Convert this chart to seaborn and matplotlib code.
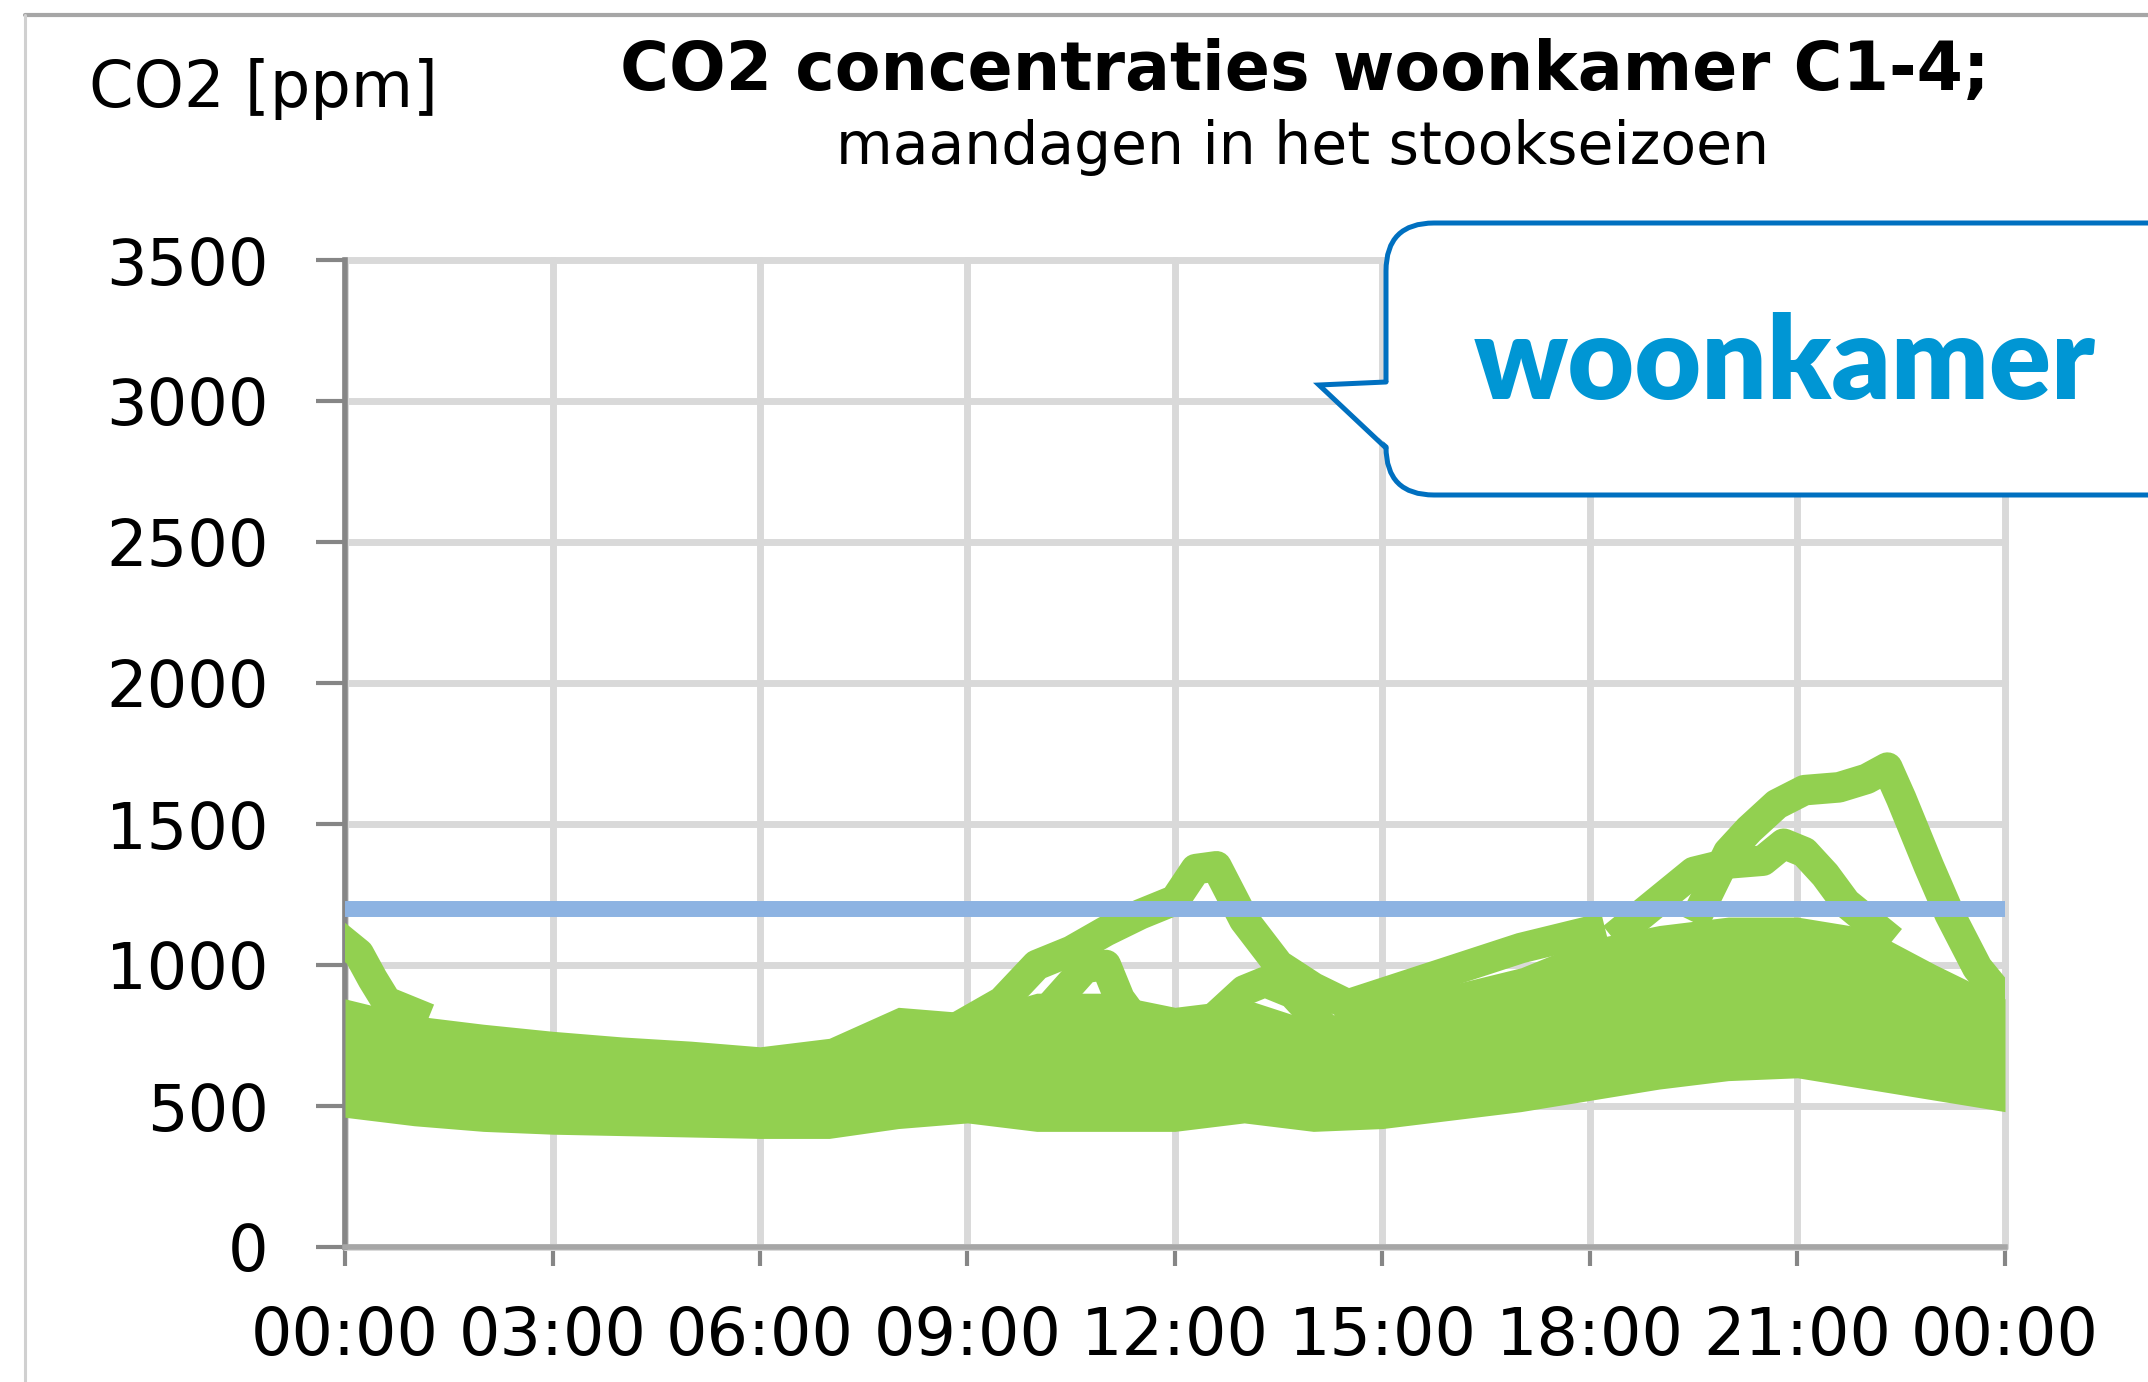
"""
CO2-concentraties in de woonkamer (C1-4) op maandagen in het stookseizoen.
Nagebouwd als seaborn/matplotlib-figuur van 2148x1382 px.
"""

import matplotlib
matplotlib.use("Agg")
import matplotlib.pyplot as plt
from matplotlib.patches import FancyBboxPatch, Polygon
from matplotlib.lines import Line2D
from matplotlib.transforms import IdentityTransform
import pandas as pd
import seaborn as sns

# --- data (ppm) ----------------------------------------------------------
uren = list(range(25))
band_onder = [460, 430, 410, 400, 395, 390, 385, 385, 420, 440, 410, 410, 410,
              440, 410, 420, 450, 480, 520, 560, 590, 600, 560, 520, 480]
band_boven = [880, 820, 790, 765, 745, 730, 710, 740, 850, 830, 900, 900, 850,
              880, 800, 880, 930, 990, 1090, 1140, 1170, 1170, 1130, 1000, 880]

# losse maandagen die boven de dichte band uitsteken
dag_nacht_t = [0.0, 0.2, 0.4, 0.6, 1.0]
dag_nacht_v = [1080, 1040, 950, 870, 830]

dag_middag_t = [9.0, 9.5, 10.0, 10.5, 11.0, 11.5, 12.0, 12.3, 12.6, 13.0, 13.5,
                14.0, 14.5, 15.0, 16.0, 17.0, 18.0]
dag_middag_v = [800, 870, 1000, 1050, 1120, 1180, 1230, 1340, 1350, 1160, 1000,
                920, 860, 900, 980, 1060, 1120]

dag_lus_t = [10.3, 10.7, 11.0, 11.2, 11.5]
dag_lus_v = [880, 990, 1000, 880, 780]

dag_13u_t = [12.6, 13.0, 13.3, 13.7, 14.0]
dag_13u_v = [820, 910, 940, 900, 820]

dag_avond_t = [18.5, 19.0, 19.5, 20.0, 20.5, 20.8, 21.1, 21.4, 21.7, 22.2]
dag_avond_v = [1130, 1230, 1330, 1360, 1370, 1430, 1400, 1320, 1220, 1120]

dag_laat_t = [19.6, 20.0, 20.3, 20.7, 21.1, 21.6, 22.0, 22.3, 22.5, 22.7, 22.9,
              23.2, 23.6, 24.0]
dag_laat_v = [1200, 1400, 1480, 1570, 1620, 1630, 1660, 1700, 1590, 1470, 1350,
              1180, 990, 870]

grens = 1200  # streefwaarde ppm

x_ticks = [0, 3, 6, 9, 12, 15, 18, 21, 24]
x_labels = ["00:00", "03:00", "06:00", "09:00", "12:00", "15:00", "18:00",
            "21:00", "00:00"]
y_ticks = [0, 500, 1000, 1500, 2000, 2500, 3000, 3500]

groen = "#92D050"
blauw = "#8DB3E2"

# --- figuur ---------------------------------------------------------------
sns.set_theme(style="white")
plt.rcParams["font.family"] = ["DejaVu Sans"]
plt.rcParams["text.color"] = "black"

W, H = 2148, 1382
fig = plt.figure(figsize=(W / 100, H / 100), dpi=100)
fig.patch.set_facecolor("white")
ax = fig.add_axes([345 / W, 135 / H, 1660 / W, 987 / H])

# dichte band van alle maandagen
ax.fill_between(uren, band_onder, band_boven, color=groen, lw=0, zorder=3)

# uitschieters als dikke lijnen
stukken = [
    ("nacht", dag_nacht_t, dag_nacht_v),
    ("middag", dag_middag_t, dag_middag_v),
    ("lus", dag_lus_t, dag_lus_v),
    ("13u", dag_13u_t, dag_13u_v),
    ("avond", dag_avond_t, dag_avond_v),
    ("laat", dag_laat_t, dag_laat_v),
]
df = pd.concat(
    [pd.DataFrame({"dag": naam, "uur": t, "co2": v}) for naam, t, v in stukken],
    ignore_index=True,
)
sns.lineplot(data=df, x="uur", y="co2", units="dag", estimator=None,
             color=groen, sort=False, ax=ax, zorder=4)
# dik maken zoals de puntenwolk in het origineel
for ln in ax.get_lines():
    ln.set_linewidth(22)
    ln.set_solid_capstyle("projecting")
    ln.set_solid_joinstyle("round")

# grenswaarde
ax.axhline(grens, color=blauw, lw=11.5, zorder=5)

ax.set_xlim(0, 24)
ax.set_ylim(0, 3500)
ax.set_xticks(x_ticks)
ax.set_xticklabels(x_labels)
ax.set_yticks(y_ticks)
ax.set_xlabel("")
ax.set_ylabel("")

ax.set_axisbelow(True)
ax.grid(True, color="#D9D9D9", lw=5)
for gl in ax.get_xgridlines() + ax.get_ygridlines():
    gl.set_clip_on(False)

for s in ("top", "right"):
    ax.spines[s].set_visible(False)
ax.spines["left"].set_color("#868686")
ax.spines["left"].set_linewidth(4)
ax.spines["bottom"].set_color("#A6A6A6")
ax.spines["bottom"].set_linewidth(4)

ax.tick_params(axis="y", direction="out", length=21, width=3,
               color="#868686", pad=34, labelsize=46, labelcolor="black",
               left=True)
ax.tick_params(axis="x", direction="out", length=14, width=3,
               color="#868686", pad=28, labelsize=47, labelcolor="black",
               bottom=True)

# titels
fig.text(1305 / W, 1 - 71 / H, "CO2 concentraties woonkamer C1-4;",
         ha="center", va="center", fontsize=48, fontweight="bold")
fig.text(1303 / W, 1 - 147 / H, "maandagen in het stookseizoen",
         ha="center", va="center", fontsize=42)
fig.text(89 / W, 1 - 89 / H, "CO2 [ppm]", ha="left", va="center", fontsize=46)

# kader rond de grafiek
fig.add_artist(Line2D([25, W], [H - 15, H - 15], transform=IdentityTransform(),
                      color="#A6A6A6", lw=3))
fig.add_artist(Line2D([25, 25], [0, H - 15], transform=IdentityTransform(),
                      color="#D0D0D0", lw=2.2))

# tekstballon "woonkamer"
rand = "#0070C0"
box = FancyBboxPatch((1386, H - 495), 900, 272,
                     boxstyle="round,pad=0,rounding_size=48",
                     transform=IdentityTransform(), fc="white", ec=rand,
                     lw=3.6, zorder=10)
fig.add_artist(box)
punt = [(1391, H - 382), (1319, H - 385), (1391, H - 448)]
fig.add_artist(Polygon(punt, closed=True, transform=IdentityTransform(),
                       fc="white", ec="none", zorder=11))
fig.add_artist(Line2D([1386, 1319, 1386], [H - 382, H - 385, H - 448],
                      transform=IdentityTransform(), color=rand, lw=3.6,
                      zorder=12, solid_joinstyle="miter"))
fig.text(1785, H - 399, "woonkamer", transform=IdentityTransform(),
         ha="center", va="baseline", fontsize=83, fontweight="heavy",
         family=["Lato", "DejaVu Sans"], color="#0096D4", zorder=13)

fig.savefig("out.png", dpi=100, facecolor="white")
